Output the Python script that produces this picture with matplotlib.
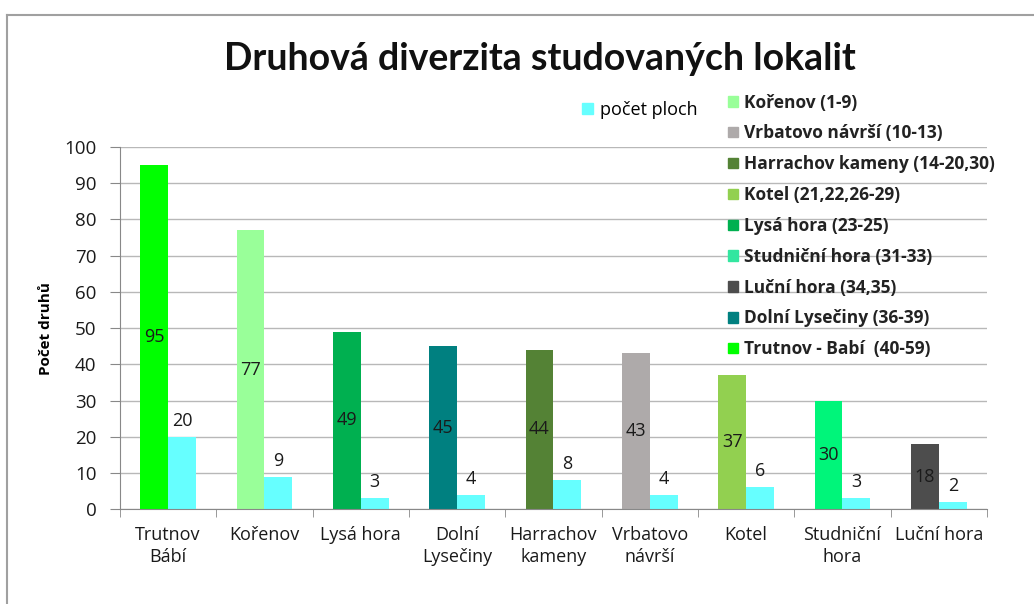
import matplotlib
matplotlib.use("Agg")
import matplotlib.pyplot as plt
import numpy as np
from matplotlib.patches import Patch
from matplotlib.lines import Line2D

plt.rcParams['font.family'] = ['Open Sans', 'DejaVu Sans']

categories = ["Trutnov\nBábí", "Kořenov", "Lysá hora", "Dolní\nLysečiny", "Harrachov\nkameny",
              "Vrbatovo\nnávrší", "Kotel", "Studniční\nhora", "Luční hora"]
species = [95, 77, 49, 45, 44, 43, 37, 30, 18]
plots = [20, 9, 3, 4, 8, 4, 6, 3, 2]
bar_colors = ["#00FF00", "#99FF99", "#00B050", "#008080", "#548235",
              "#AEAAAA", "#92D050", "#00F57A", "#4D4D4D"]
legend_labels = ["Kořenov (1-9)", "Vrbatovo návrší (10-13)", "Harrachov kameny (14-20,30)",
                 "Kotel (21,22,26-29)", "Lysá hora (23-25)", "Studniční hora (31-33)",
                 "Luční hora (34,35)", "Dolní Lysečiny (36-39)", "Trutnov - Babí  (40-59)"]
legend_colors = ["#99FF99", "#AEAAAA", "#548235", "#92D050", "#00B050", "#33E6A0",
                 "#4D4D4D", "#008080", "#00FF00"]
plots_color = "#66FFFF"

fig = plt.figure(figsize=(10.34, 6.04), dpi=100)
ax = fig.add_axes([0.116, 0.157, 0.8385, 0.5996])

x = np.arange(len(categories))
w = 0.29
b1 = ax.bar(x - w/2, species, w, color=bar_colors, zorder=2)
b2 = ax.bar(x + w/2, plots, w, color=plots_color, zorder=2)
ax.bar_label(b1, labels=[str(v) for v in species], label_type='center', fontsize=13, color='#1a1a1a')
ax.bar_label(b2, labels=[str(v) for v in plots], padding=5, fontsize=13, color='#1a1a1a')

ax.set_xlim(-0.5, len(categories) - 0.5)
ax.set_ylim(0, 100)
ax.set_yticks(np.arange(0, 101, 10))
ax.tick_params(axis='y', labelsize=13.5, length=7, color='#888888', labelcolor='#1a1a1a', pad=10)
ax.set_xticks(x)
ax.set_xticklabels(categories, fontsize=13, color='#1a1a1a', linespacing=1.3)
ax.tick_params(axis='x', length=0, pad=12)
ax.set_xticks(np.arange(-0.5, len(categories), 1), minor=True)
ax.tick_params(axis='x', which='minor', length=6, color='#888888')
ax.grid(axis='y', color='#b8b8b8', linewidth=1, zorder=0)
for s in ['top', 'right']:
    ax.spines[s].set_visible(False)
ax.spines['left'].set_color('#888888')
ax.spines['bottom'].set_color('#888888')
ax.set_ylabel("Počet druhů", fontsize=11, fontweight='bold', labelpad=8)

fig.text(0.522, 0.903, "Druhová diverzita studovaných lokalit", ha='center', va='center',
         fontsize=27, fontweight='bold', color='#111111', family=['Lato', 'DejaVu Sans'])

leg1 = fig.legend(handles=[Patch(color=plots_color, label="počet ploch")],
                  loc='center left', bbox_to_anchor=(0.547, 0.818), frameon=False,
                  fontsize=13, handlelength=0.6, handleheight=0.6, handletextpad=0.4)
handles = [Patch(color=c, label=l) for c, l in zip(legend_colors, legend_labels)]
leg2 = fig.legend(handles=handles, loc='upper left', bbox_to_anchor=(0.689, 0.871), frameon=False,
                  prop={'size': 12.5, 'weight': 'bold', 'family': ['Open Sans', 'DejaVu Sans']},
                  handlelength=0.55, handleheight=0.55, handletextpad=0.35, labelspacing=0.74)
for t in leg2.get_texts():
    t.set_color('#222222')

fig.add_artist(Line2D([0.0072, 0.0072], [0.0, 0.975], transform=fig.transFigure, color='#a0a0a0', lw=1.5))
fig.add_artist(Line2D([0.0072, 1.0], [0.975, 0.975], transform=fig.transFigure, color='#a0a0a0', lw=1.5))

fig.savefig("out.png", dpi=100)
